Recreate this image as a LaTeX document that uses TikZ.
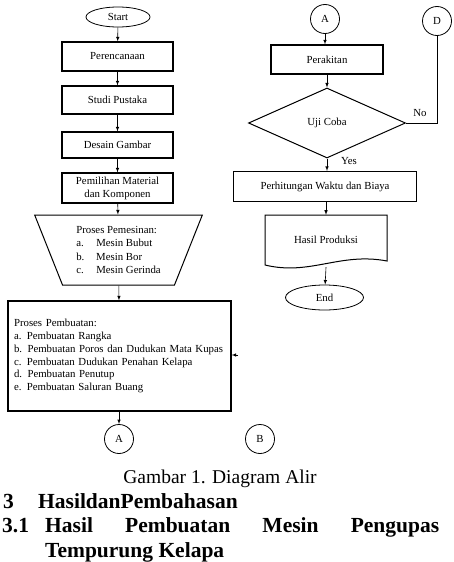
\documentclass[tikz,border=0pt]{standalone}
\usepackage{fontspec}
\setmainfont{Liberation Serif}
\usetikzlibrary{positioning}
\usetikzlibrary{shapes.geometric}

\begin{document}
\begin{tikzpicture}[
      x=1pt, y=-1pt,
      every node/.style={font=\fontsize{10.8}{12.8}\selectfont},
      type-process/.style={rectangle, draw, line width=1.2pt, minimum width=111pt, inner sep=2pt},
      type-terminal/.style={ellipse, draw, thick, inner sep=0pt},
      type-connector/.style={circle, draw, thick, minimum size=29pt, inner sep=0pt},
      type-decision/.style={diamond, draw, line width=1pt, minimum width=157pt, minimum height=70pt, inner sep=0pt},
      type-io/.style={trapezium, draw, line width=1pt, shape border rotate=180, trapezium angle=66, trapezium stretches=true, minimum width=168pt, minimum height=70pt, inner sep=0pt},
      type-text/.style={inner sep=0pt},
      type-head/.style={inner sep=0pt, anchor=base west, font=\bfseries\fontsize{21.5}{25}\selectfont\hyphenpenalty 10000\relax},
      flow/.style={-latex, semithick}
    ]
      \useasboundingbox (0,0) rectangle (454,562);
      % left column
      \node[type-terminal, minimum width=64pt, minimum height=20pt] (start) at (118,17) {Start};
      \node[type-process, minimum height=29pt] (rencana) at (117.5,56.5) {Perencanaan};
      \node[type-process, minimum height=28pt] (pustaka) at (117.5,100) {Studi Pustaka};
      \node[type-process, minimum height=26pt] (desain) at (117.5,145) {Desain Gambar};
      \node[type-process, minimum height=30pt, align=center] (material) at (117.5,188) {Pemilihan Material\\dan Komponen};
      \node[type-io, align=left, font=\fontsize{10.8}{13.3}\selectfont] (pemesinan) at (118.5,250) {Proses Pemesinan:\\
        \makebox[20pt][l]{a.}Mesin Bubut\\
        \makebox[20pt][l]{b.}Mesin Bor\\
        \makebox[20pt][l]{c.}Mesin Gerinda};
      \node[type-process, minimum width=223pt, minimum height=110pt, text width=211pt, align=left, font=\fontsize{10.8}{12.9}\selectfont] (pembuatan) at (119.5,356) {Proses Pembuatan:\\
        a. Pembuatan Rangka\\
        b. Pembuatan Poros dan Dudukan Mata Kupas\\
        c. Pembuatan Dudukan Penahan Kelapa\\
        d. Pembuatan Penutup\\
        e. Pembuatan Saluran Buang};
      \node[type-connector] (a-out) at (119,439) {A};
      \node[type-connector] (b-out) at (260,439) {B};
      \coordinate (b-in) at (238,355);
      % right column
      \node[type-connector] (a-in) at (325,19) {A};
      \node[type-connector] (d-in) at (437,21) {D};
      \node[type-process, minimum width=112pt, minimum height=29pt] (rakit) at (327,59.5) {Perakitan};
      \node[type-decision] (uji) at (327,123) {Uji Coba};
      \node[type-process, minimum width=183pt, minimum height=30pt] (hitung) at (325,186.5) {Perhitungan Waktu dan Biaya};
      \node[minimum width=122pt, minimum height=50pt, inner sep=0pt] (hasil) at (326,240) {Hasil Produksi};
      \draw[line width=1pt] (265,215) -- (387,215) -- (387,261) .. controls (340,252) and (310,276) .. (265,265) -- cycle;
      \node[type-terminal, minimum width=78pt, minimum height=25pt] (end) at (324.5,297.5) {End};
      \node[type-text] (yes) at (349,161) {Yes};
      \node[type-text] (no) at (420,113) {No};

      \draw[flow] (start) -- (rencana);
      \draw[flow] (rencana) -- (pustaka);
      \draw[flow] (pustaka) -- (desain);
      \draw[flow] (desain) -- (material);
      \draw[flow] (material) -- (pemesinan);
      \draw[flow] (pemesinan) -- (pembuatan);
      \draw[flow] (pembuatan.south -| a-out) -- (a-out);
      \draw[flow] (b-in) -- (pembuatan.east |- b-in);
      \draw[flow] (a-in) -- (rakit.north -| a-in);
      \draw[flow] (rakit.south -| uji) -- (uji);
      \draw[flow] (uji) -- (hitung.north -| uji);
      \draw[flow] (hitung.south -| hasil) -- (hasil.north);
      \draw[flow] (hasil.south) ++(0,2) -- (end);
      \draw[semithick] (uji.east) -| (d-in.south);

      % caption and headings
      \node[type-text, anchor=base, font=\fontsize{19.5}{24}\selectfont] (caption) at (220,483) {Gambar 1. Diagram Alir};
      \node[type-head] (sec-no) at (3,508) {3};
      \node[type-head] (sec-title) at (38,508) {HasildanPembahasan};
      \node[type-head] (sub-no) at (2,532) {3.1};
      \node[type-head, text width=394pt, align=justify] (sub-title) at (45,532) {Hasil Pembuatan Mesin Pengupas Tempurung Kelapa};
    \end{tikzpicture}
\end{document}
